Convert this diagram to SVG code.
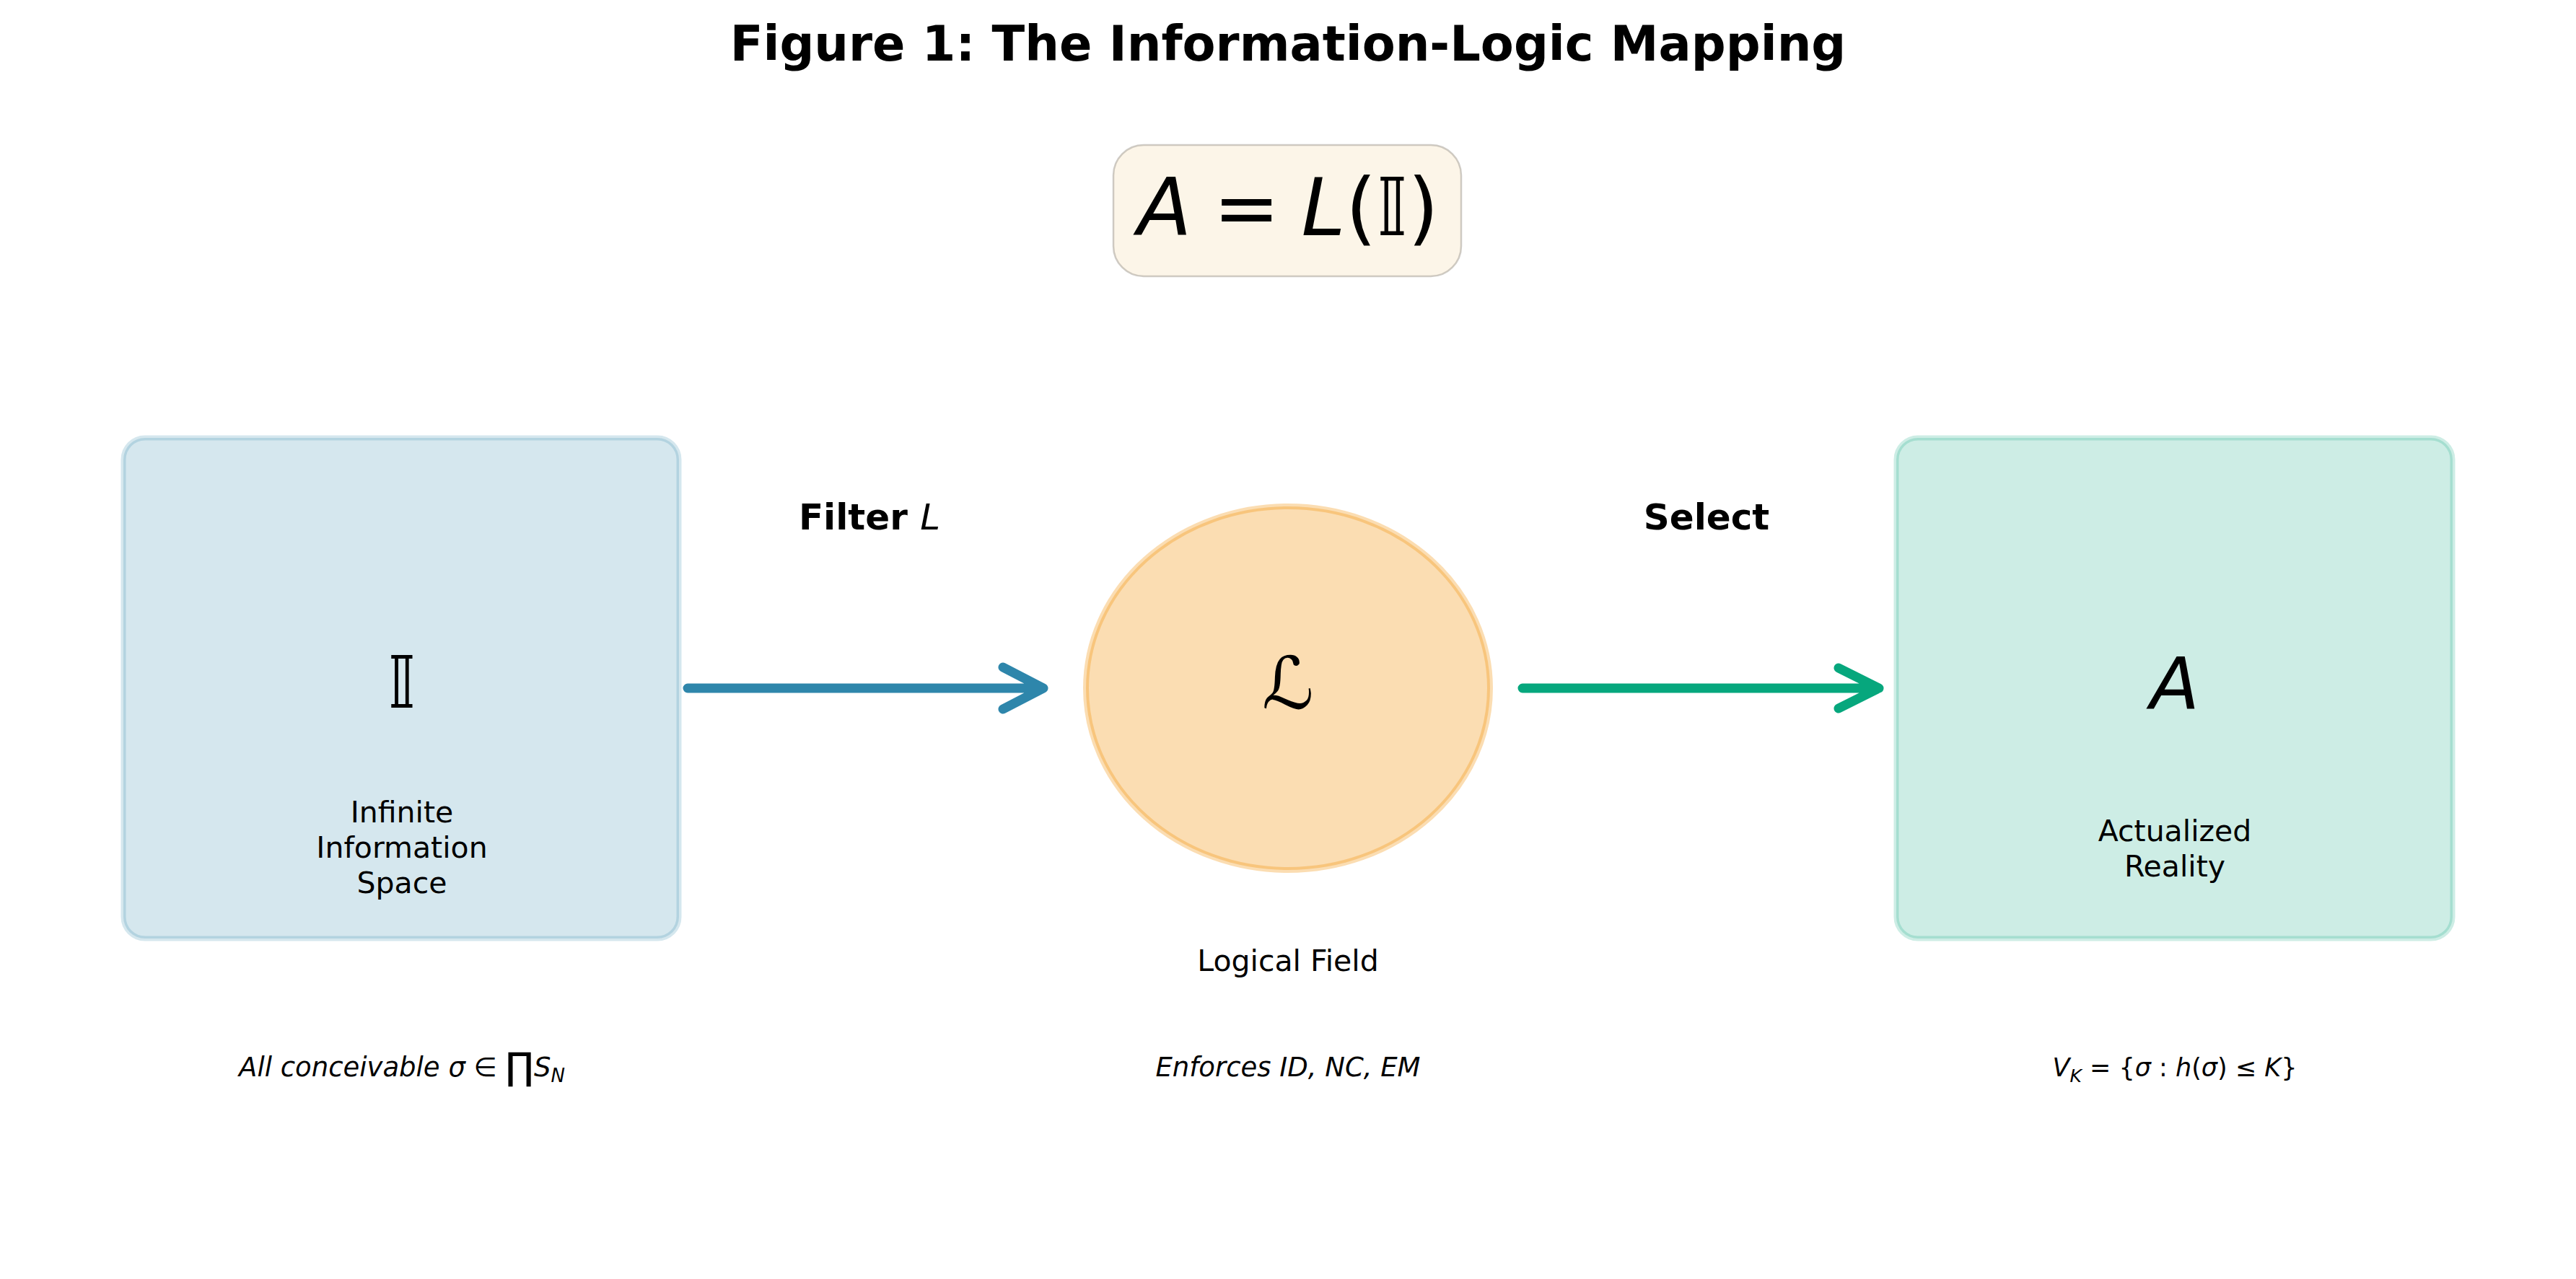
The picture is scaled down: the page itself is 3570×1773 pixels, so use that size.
<svg xmlns="http://www.w3.org/2000/svg" width="3570" height="1773" viewBox="0 0 3570 1773">
  <style>
    text { font-family: "DejaVu Sans", "Liberation Sans", sans-serif; fill: #000; }
    .title { font-size: 67px; font-weight: bold; text-anchor: middle; }
    .label { font-size: 41px; text-anchor: middle; }
    .edge-label { font-size: 50px; font-weight: bold; text-anchor: middle; }
    .note { font-size: 37px; font-style: italic; text-anchor: middle; }
    .sym { font-size: 100px; font-style: italic; text-anchor: middle; }
    .it { font-style: italic; }
    .up { font-style: normal; }
    .conn { fill: none; stroke-width: 13; stroke-linecap: round; stroke-linejoin: round; }
  </style>
  <rect width="3570" height="1773" fill="#ffffff"/>

  <text class="title" x="1785" y="84">Figure 1: The Information-Logic Mapping</text>

  <g id="formula">
    <rect x="1543" y="201" width="482" height="182" rx="42" ry="42" fill="#f5deb3" fill-opacity="0.3" stroke="#a09a90" stroke-opacity="0.5" stroke-width="2.5"/>
    <text x="1785" y="326" font-size="110" text-anchor="middle"><tspan class="it">A</tspan><tspan dx="30">=</tspan><tspan class="it" dx="30">L</tspan>(<tspan class="it">𝕀</tspan>)</text>
  </g>

  <g id="node-info-space">
    <rect x="171" y="607" width="770" height="694" rx="30" ry="30" fill="#2e86ab" fill-opacity="0.2" stroke="#2e86ab" stroke-opacity="0.2" stroke-width="7"/>
    <text class="sym" x="557" y="981">𝕀</text>
    <text class="label" x="557" y="1140">Infinite</text>
    <text class="label" x="557" y="1189">Information</text>
    <text class="label" x="557" y="1238">Space</text>
    <text class="note" x="557" y="1492">All conceivable σ<tspan class="up"> ∈ </tspan><tspan class="up" font-size="52" dy="4">∏</tspan><tspan dy="-4">S</tspan><tspan font-size="26" dy="8">N</tspan></text>
  </g>

  <g id="node-logical-field">
    <ellipse cx="1785" cy="954" rx="280" ry="252" fill="#f18f01" fill-opacity="0.3" stroke="#f18f01" stroke-opacity="0.3" stroke-width="8"/>
    <text x="1785" y="982" font-size="100" text-anchor="middle" font-family="'DejaVu Serif', serif" font-style="italic">ℒ</text>
    <text class="label" x="1785" y="1346">Logical Field</text>
    <text class="note" x="1785" y="1492">Enforces ID, NC, EM</text>
  </g>

  <g id="node-actualized">
    <rect x="2628" y="607" width="771" height="694" rx="30" ry="30" fill="#06a77d" fill-opacity="0.2" stroke="#06a77d" stroke-opacity="0.2" stroke-width="7"/>
    <text class="sym" x="3014" y="983">A</text>
    <text class="label" x="3014" y="1166">Actualized</text>
    <text class="label" x="3014" y="1215">Reality</text>
    <text class="note" x="3014" y="1492" style="font-size:35px">V<tspan font-size="25" dy="8">K</tspan><tspan class="up" dy="-8"> = {</tspan>σ<tspan class="up"> : </tspan>h<tspan class="up">(</tspan>σ<tspan class="up">) ≤ </tspan>K<tspan class="up">}</tspan></text>
  </g>

  <g id="connectors">
    <g id="edge-filter">
      <path class="conn" stroke="#2e86ab" d="M 953 954 L 1446 954 M 1390 925 L 1446 954 L 1390 983"/>
      <text class="edge-label" x="1205" y="734">Filter <tspan font-weight="normal" font-style="italic">L</tspan></text>
    </g>
    <g id="edge-select">
      <path class="conn" stroke="#06a77d" d="M 2110 954 L 2604 954 M 2548 926 L 2604 954 L 2548 982"/>
      <text class="edge-label" x="2365" y="734">Select</text>
    </g>
  </g>
</svg>
